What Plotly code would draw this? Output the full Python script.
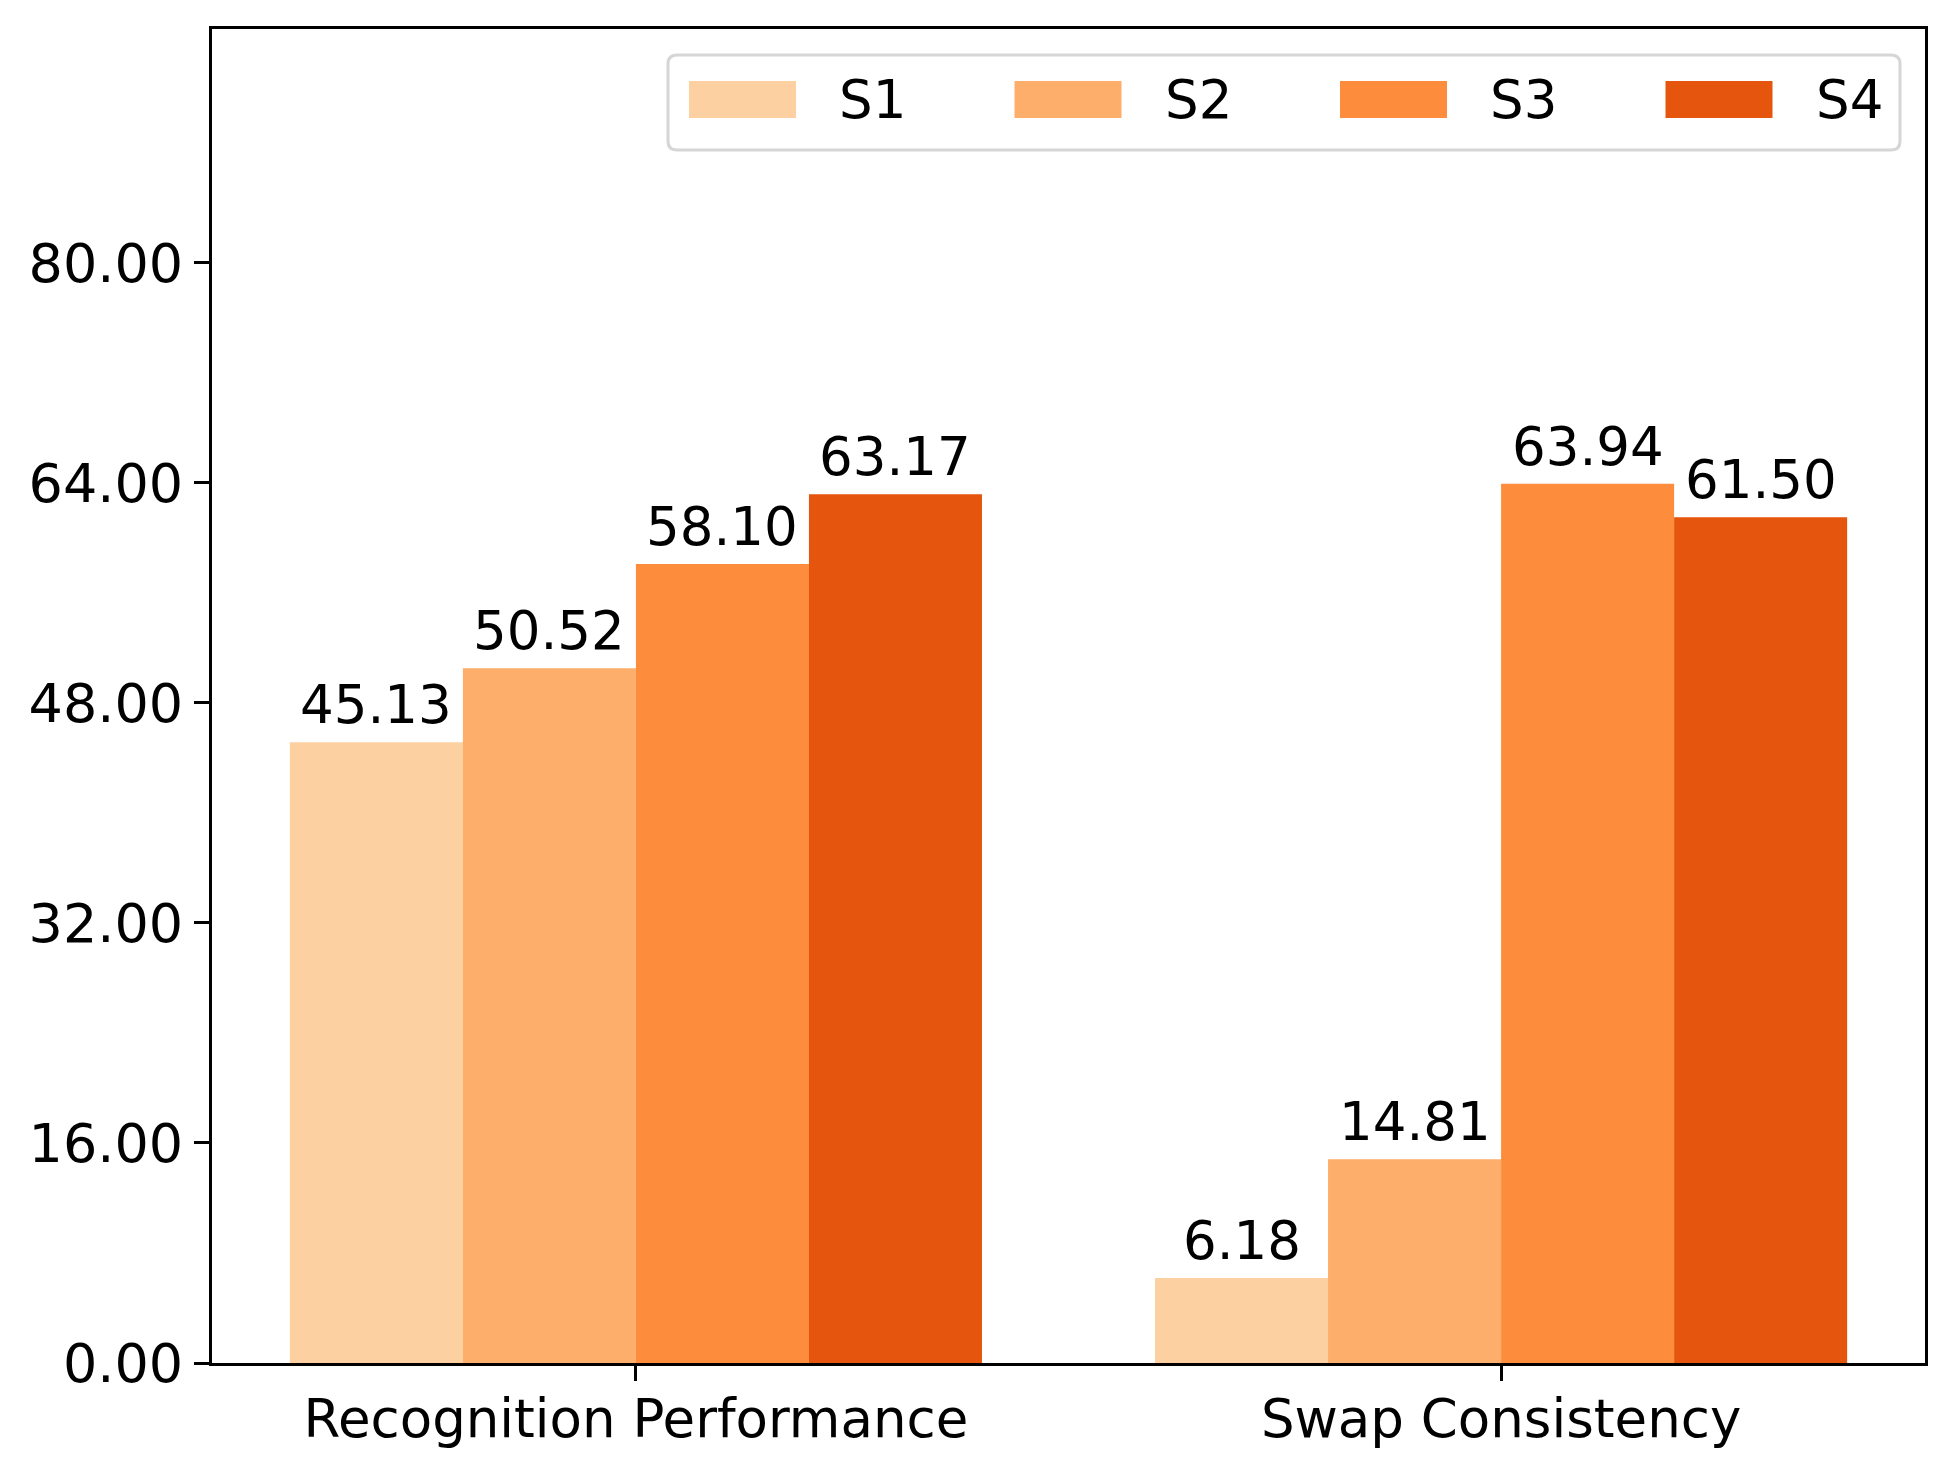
import plotly.graph_objects as go

categories = ["Recognition Performance", "Swap Consistency"]
series_names = ["S1", "S2", "S3", "S4"]
s1 = [45.13, 6.18]
s2 = [50.52, 14.81]
s3 = [58.10, 63.94]
s4 = [63.17, 61.50]
series_values = [s1, s2, s3, s4]
colors = ["#fdd0a2", "#fdae6b", "#fd8d3c", "#e6550d"]
y_ticks = [0, 16, 32, 48, 64, 80]
y_tick_labels = ["%.2f" % v for v in y_ticks]

FONT = "DejaVu Sans"
FS = 53
OFF = 8  # default page body margin
W, H = 1954 - OFF, 1474 - OFF
ML, MR, MT, MB = 212 - OFF, 29, 29 - OFF, 111
PW = W - ML - MR
PH = H - MT - MB

def px_x(px):
    return (px - OFF - ML) / PW

def px_y(py):
    return (OFF + H - MB - py) / PH

fig = go.Figure()
n = len(series_names)
bw = 0.2
for j, (name, vals, col) in enumerate(zip(series_names, series_values, colors)):
    fig.add_trace(go.Bar(
        x=categories, y=vals, name=name, marker_color=col,
        marker_line_width=0, showlegend=False,
    ))

annotations = []
for j, vals in enumerate(series_values):
    for i, v in enumerate(vals):
        annotations.append(dict(
            x=i + (j - (n - 1) / 2) * bw, y=v, xref="x", yref="y",
            text="%.2f" % v, showarrow=False, yanchor="bottom",
            xanchor="center", yshift=5,
            font=dict(family=FONT, size=FS, color="black"),
        ))

# legend (drawn with paper-referenced shapes)
shapes = []
lx0, lx1 = px_x(668), px_x(1900)
ly0, ly1 = px_y(150), px_y(55)
rx, ry = 9 / PW, 9 / PH
path = (f"M {lx0+rx},{ly0} L {lx1-rx},{ly0} Q {lx1},{ly0} {lx1},{ly0+ry} "
        f"L {lx1},{ly1-ry} Q {lx1},{ly1} {lx1-rx},{ly1} "
        f"L {lx0+rx},{ly1} Q {lx0},{ly1} {lx0},{ly1-ry} "
        f"L {lx0},{ly0+ry} Q {lx0},{ly0} {lx0+rx},{ly0} Z")
shapes.append(dict(type="path", path=path, xref="paper", yref="paper",
                   line=dict(color="rgb(214,214,214)", width=3),
                   fillcolor="white", layer="above"))
step = 325.5
for j, (name, col) in enumerate(zip(series_names, colors)):
    sx = 689 + step * j
    shapes.append(dict(type="rect", xref="paper", yref="paper",
                       x0=px_x(sx), x1=px_x(sx + 107),
                       y0=px_y(118), y1=px_y(81),
                       fillcolor=col, line=dict(width=0), layer="above"))
    annotations.append(dict(
        x=px_x(sx + 148), y=px_y(100), xref="paper", yref="paper",
        text=name, showarrow=False, xanchor="left", yanchor="middle",
        font=dict(family=FONT, size=FS, color="black"),
    ))

fig.update_layout(
    width=W, height=H,
    margin=dict(l=ML, r=MR, t=MT, b=MB, pad=0),
    paper_bgcolor="white", plot_bgcolor="white",
    barmode="group", bargap=0.2, bargroupgap=0,
    font=dict(family=FONT, size=FS, color="black"),
    annotations=annotations, shapes=shapes,
    showlegend=False,
)
fig.update_xaxes(
    range=[-0.49, 1.49], showline=True, linecolor="black", linewidth=3,
    mirror=True, ticks="outside", ticklen=15, tickwidth=3, tickcolor="black",
    showgrid=False, zeroline=False, tickfont=dict(family=FONT, size=FS),
    ticklabelstandoff=-8,
)
fig.update_yaxes(
    range=[0, 97.0], tickvals=y_ticks, ticktext=y_tick_labels,
    showline=True, linecolor="black", linewidth=3, mirror=True,
    ticks="outside", ticklen=15, tickwidth=3, tickcolor="black",
    showgrid=False, zeroline=False, tickfont=dict(family=FONT, size=FS + 1),
)

fig.write_html("out.html")
